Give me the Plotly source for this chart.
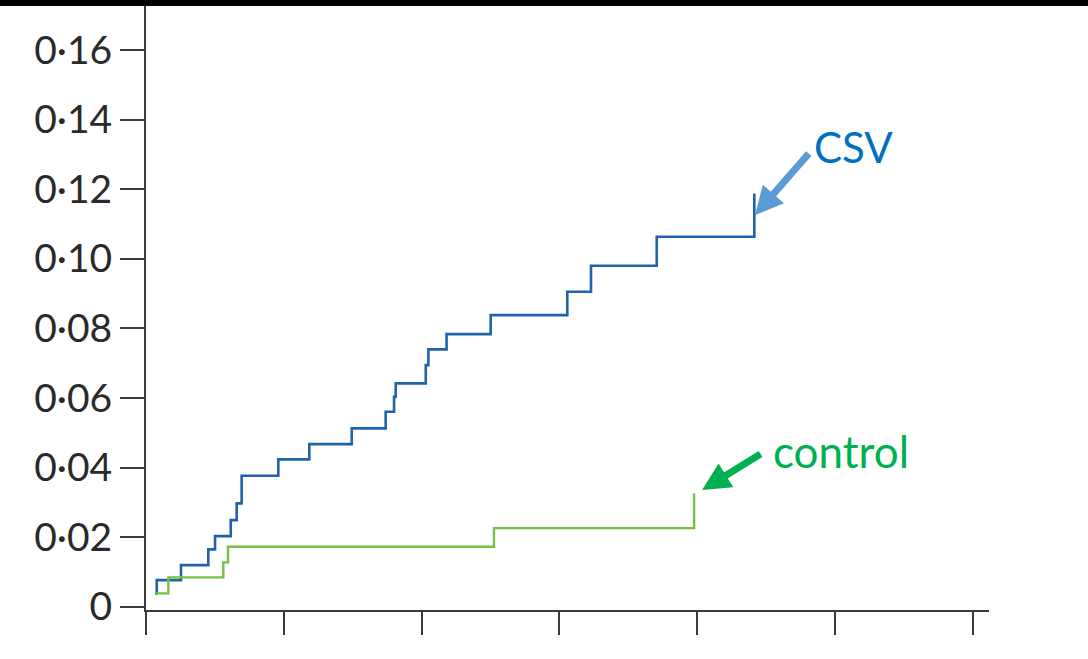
import plotly.graph_objects as go

# Cumulative incidence step curves (time in axis units, cumulative proportion)
csv_time = [0.065, 0.078, 0.254, 0.452, 0.501, 0.615, 0.658, 0.694, 0.960, 1.185,
            1.493, 1.739, 1.800, 1.812, 2.030, 2.049, 2.181, 2.501, 3.057, 3.229,
            3.706, 4.414]
csv_value = [0.00385, 0.00767, 0.01198, 0.01649, 0.02032, 0.02491, 0.02971, 0.03764,
             0.04236, 0.04675, 0.05126, 0.05603, 0.06034, 0.06420, 0.06945, 0.07397,
             0.07836, 0.08382, 0.09052, 0.09799, 0.10632, 0.11879]

control_time = [0.065, 0.162, 0.561, 0.595, 2.525, 3.977]
control_value = [0.00385, 0.00845, 0.01276, 0.01724, 0.02261, 0.03259]

y_ticks = [0, 0.02, 0.04, 0.06, 0.08, 0.10, 0.12, 0.14, 0.16]
y_tick_labels = ["0", "0·02", "0·04", "0·06", "0·08", "0·10", "0·12", "0·14", "0·16"]
x_ticks = [0, 1, 2, 3, 4, 5, 6]

AXIS_COLOR = "#3a3a3a"
BLUE_LINE = "#1f63ab"
GREEN_LINE = "#77c043"

fig = go.Figure()
fig.add_trace(go.Scatter(x=csv_time, y=csv_value, mode="lines", line_shape="hv",
                         line=dict(color=BLUE_LINE, width=2.6), name="CSV"))
fig.add_trace(go.Scatter(x=control_time, y=control_value, mode="lines", line_shape="hv",
                         line=dict(color=GREEN_LINE, width=2.4), name="control"))

fig.update_layout(
    width=1088, height=659,
    margin=dict(l=146, r=99, t=0, b=49),
    paper_bgcolor="white", plot_bgcolor="white",
    showlegend=False,
    xaxis=dict(range=[0, 6.117], tickvals=x_ticks, showticklabels=False,
               ticks="outside", ticklen=23, tickwidth=2, tickcolor=AXIS_COLOR,
               showline=True, linecolor=AXIS_COLOR, linewidth=2,
               showgrid=False, zeroline=False),
    yaxis=dict(range=[-0.00092, 0.17437], tickvals=y_ticks, ticktext=y_tick_labels,
               ticks="outside", ticklen=24, tickwidth=2, tickcolor=AXIS_COLOR,
               showline=True, linecolor=AXIS_COLOR, linewidth=2,
               showgrid=False, zeroline=False,
               tickfont=dict(family="Lato", size=39, color="#2a2a2a")),
)

# Dark band across the top edge
fig.add_shape(type="rect", xref="paper", yref="paper",
              x0=-0.2, x1=1.2, y0=1 - 6 / 610, y1=1.01,
              fillcolor="black", line=dict(width=0), layer="above")

# Arrow callouts pointing at the curve ends
fig.add_annotation(x=4.419, y=0.11256, ax=55, ay=-63, axref="pixel", ayref="pixel",
                   text="", showarrow=True, arrowhead=2, arrowsize=0.8,
                   arrowwidth=7, arrowcolor="#5b9bd5")
fig.add_annotation(x=4.035, y=0.03353, ax=60, ay=-37, axref="pixel", ayref="pixel",
                   text="", showarrow=True, arrowhead=2, arrowsize=0.8,
                   arrowwidth=7, arrowcolor="#00b050")

fig.add_annotation(x=4.833, y=0.1321, text="CSV", showarrow=False,
                   xanchor="left", yanchor="middle",
                   font=dict(family="Lato", size=42, color="#0070c0"))
fig.add_annotation(x=4.537, y=0.04474, text="control", showarrow=False,
                   xanchor="left", yanchor="middle",
                   font=dict(family="Lato", size=44, color="#00b050"))

fig.write_html("out.html")
